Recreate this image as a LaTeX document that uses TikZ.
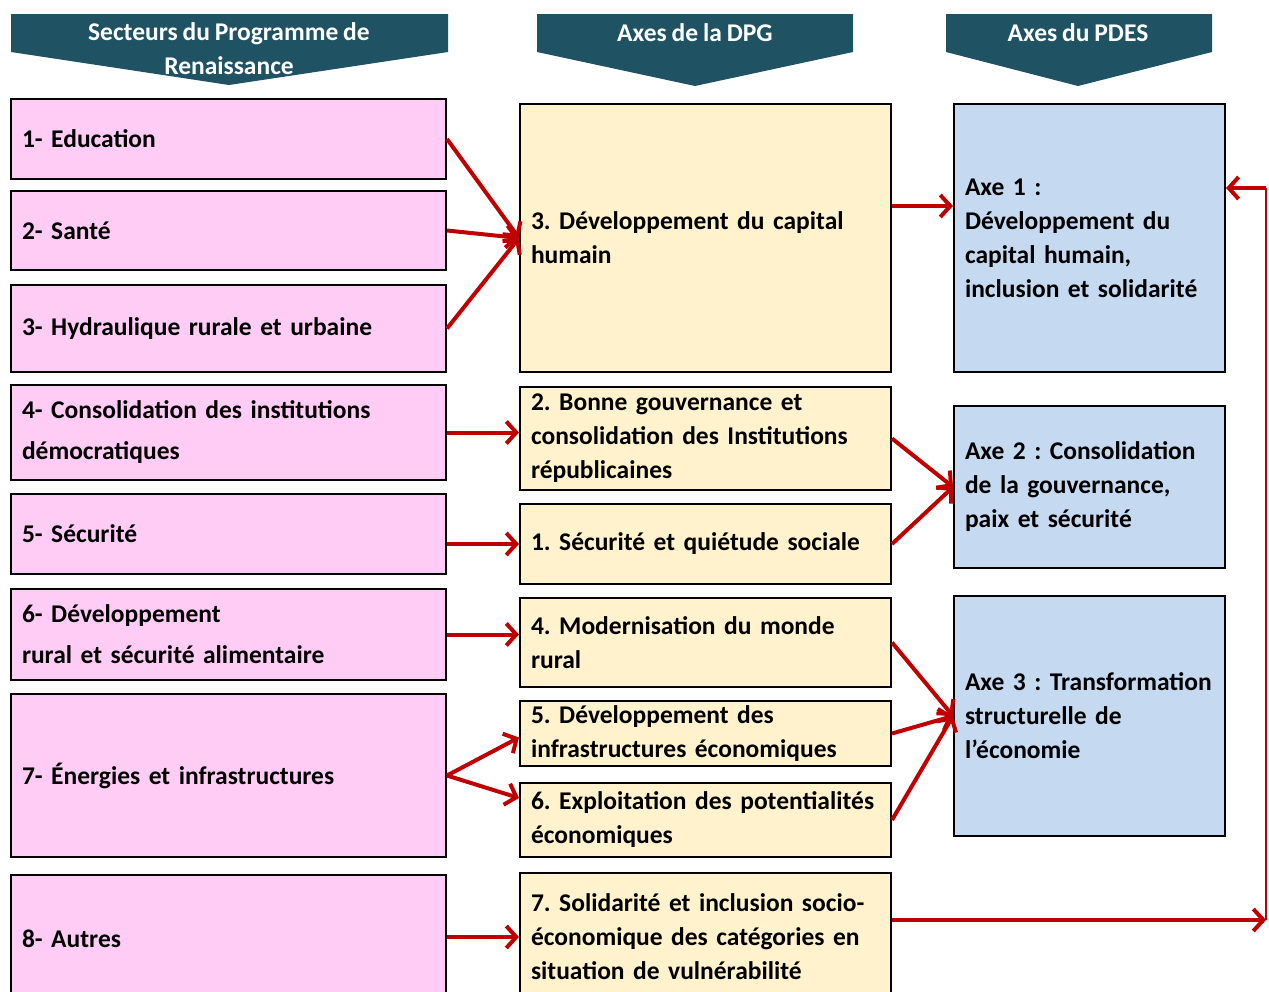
\documentclass[tikz,border=0pt]{standalone}
\usepackage{fontspec}
\setmainfont[WordSpace=0.85]{Carlito}
\usetikzlibrary{arrows.meta}
\definecolor{bannerteal}{RGB}{31,82,99}
\definecolor{sectorpink}{RGB}{255,204,245}
\definecolor{dpgcream}{RGB}{255,242,204}
\definecolor{pdesblue}{RGB}{197,217,240}
\definecolor{linkred}{RGB}{192,0,0}
\frenchspacing

\begin{document}
\begin{tikzpicture}
[x=1pt, y=-1pt, font=\fontsize{25.5}{34}\selectfont\bfseries,
>={Straight Barb[length=10pt, width=22pt]},
sector/.style={rectangle, draw, line width=2pt, fill=sectorpink, anchor=north west, inner xsep=11pt, text width=413pt, align=left},
axedpg/.style={rectangle, draw, line width=2pt, fill=dpgcream, anchor=north west, inner xsep=11pt, text width=349pt, align=left},
axepdes/.style={rectangle, draw, line width=2pt, fill=pdesblue, anchor=north west, inner xsep=11pt, text width=249pt, align=left},
banner/.style={fill=bannerteal},
bannertext/.style={text=white, align=center},
link/.style={->, draw=linkred, line width=4pt}]

\clip (0,0) rectangle (1269,991);

% headers
\fill[banner] (11,14) -- (448,14) -- (448,52) -- (229,85) -- (11,52) -- cycle;
\fill[banner] (537,14) -- (853,14) -- (853,52) -- (695,86) -- (537,52) -- cycle;
\fill[banner] (946,14) -- (1212,14) -- (1212,52) -- (1078,86) -- (946,52) -- cycle;
\node[bannertext] (hsec) at (229,49) {Secteurs du Programme de\\Renaissance};
\node[bannertext] (hdpg) at (695,33) {Axes de la DPG};
\node[bannertext] (hpdes) at (1078,33) {Axes du PDES};

% secteurs
\node[sector, minimum height=80pt] (sec1) at (10,98) {1- Education};
\node[sector, minimum height=79pt] (sec2) at (10,190) {2- Santé};
\node[sector, minimum height=87pt] (sec3) at (10,284) {3- Hydraulique rurale et urbaine};
\node[sector, minimum height=95pt] (sec4) at (10,384) {4- Consolidation des institutions\\[7pt]démocratiques};
\node[sector, minimum height=80pt] (sec5) at (10,493) {5- Sécurité};
\node[sector, minimum height=91pt] (sec6) at (10,588) {6- Développement\\[7pt]rural et sécurité alimentaire};
\node[sector, minimum height=163pt] (sec7) at (10,693) {7- Énergies et infrastructures};
\node[sector, minimum height=128pt] (sec8) at (10,874) {8- Autres};

% axes DPG
\node[axedpg, minimum height=268pt] (dpg3) at (519,103) {3. Développement du capital\\humain};
\node[axedpg, minimum height=103pt] (dpg2) at (519,386) {2. Bonne gouvernance et\\consolidation des Institutions\\républicaines};
\node[axedpg, minimum height=80pt] (dpg1) at (519,503) {1. Sécurité et quiétude sociale};
\node[axedpg, minimum height=89pt] (dpg4) at (519,597) {4. Modernisation du monde\\rural};
\node[axedpg, minimum height=65pt] (dpg5) at (519,700) {5. Développement des\\infrastructures économiques};
\node[axedpg, minimum height=74pt] (dpg6) at (519,782) {6. Exploitation des potentialités\\économiques};
\node[axedpg, minimum height=128pt] (dpg7) at (519,872) {7. Solidarité et inclusion socio-\\économique des catégories en\\situation de vulnérabilité};

% axes PDES
\node[axepdes, minimum height=268pt] (pdes1) at (953,103) {Axe 1 :\\Développement du\\capital humain,\\inclusion et solidarité};
\node[axepdes, minimum height=162pt] (pdes2) at (953,405) {Axe 2 : Consolidation\\de la gouvernance,\\paix et sécurité};
\node[axepdes, minimum height=240pt] (pdes3) at (953,595) {Axe 3 : Transformation\\structurelle de\\l’économie};

\coordinate (loopbot) at (1266,920);
\coordinate (looptop) at (1266,188);

% liens secteurs -> DPG
\draw[link] (sec1.east) -- (dpg3.west);
\draw[link] (sec2.east) -- (dpg3.west);
\draw[link] (sec3.east) -- (dpg3.west);
\draw[link] (sec4.east) -- (sec4.east -| dpg2.west);
\draw[link] (dpg1.west -| sec5.east) -- (dpg1.west);
\draw[link] (sec6.east) -- (sec6.east -| dpg4.west);
\draw[link] (sec7.east) -- ([yshift=-4pt]dpg5.west);
\draw[link] (sec7.east) -- ([yshift=22pt]dpg6.west);
\draw[link] (dpg7.west -| sec8.east) -- (dpg7.west);

% liens DPG -> PDES
\draw[link] ([yshift=32pt]dpg3.east) -- ([yshift=32pt]pdes1.west);
\draw[link] (dpg2.east) -- (pdes2.west);
\draw[link] (dpg1.east) -- (pdes2.west);
\draw[link] (dpg4.east) -- (pdes3.west);
\draw[link] (dpg5.east) -- (pdes3.west);
\draw[link] (dpg6.east) -- (pdes3.west);
\draw[link] (loopbot -| dpg7.east) -- (loopbot);
\draw[draw=linkred, line width=2pt] (loopbot) -- (looptop);
\draw[link] (looptop) -- (looptop -| pdes1.east);
\end{tikzpicture}
\end{document}
